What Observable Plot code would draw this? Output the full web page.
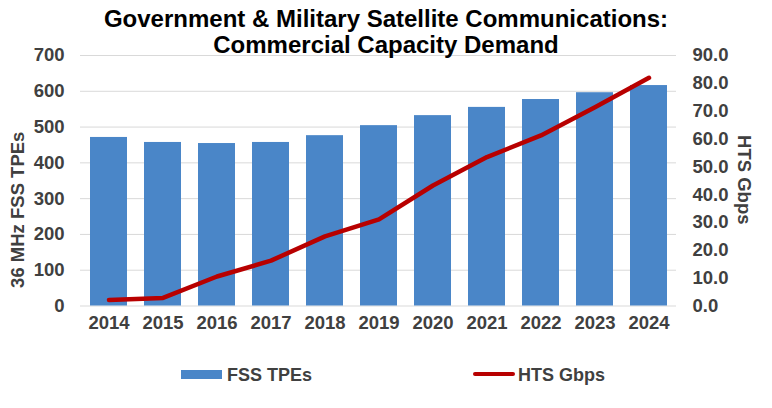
<!DOCTYPE html>
<html>
<head>
<meta charset="utf-8">
<script src="https://cdn.jsdelivr.net/npm/d3@7"></script>
<script src="https://cdn.jsdelivr.net/npm/@observablehq/plot@0.6"></script>
<style>
  html, body { margin: 0; padding: 0; background: #fff; }
  #wrap { position: relative; width: 772px; height: 408px; font-family: "Liberation Sans", Arial, sans-serif; font-weight: bold; }
  .title { position: absolute; left: 0; width: 772px; text-align: center; font-size: 24px; line-height: 26px; color: #000; top: 5.5px; }
  #chart { position: absolute; left: 0; top: 0; }
  .leg { position: absolute; font-size: 18px; color: #404040; line-height: 20px; }
</style>
</head>
<body>
<div id="wrap">
  <div id="chart"></div>
  <div class="title">Government &amp; Military Satellite Communications:<br>Commercial Capacity Demand</div>
  <div id="legend"></div>
</div>
<script>
const years = ["2014","2015","2016","2017","2018","2019","2020","2021","2022","2023","2024"];
const fssTPEs = [471, 457, 454, 457, 476, 504, 532, 555, 577, 596, 616];
const htsGbps = [2.2, 2.9, 10.6, 16.3, 25.0, 31.1, 43.3, 53.5, 61.3, 71.4, 82.0];
const leftTicks = [0, 100, 200, 300, 400, 500, 600, 700];
const rightTicks = [0, 10, 20, 30, 40, 50, 60, 70, 80, 90];
const leftMax = 700, rightMax = 90;
const seriesNames = ["FSS TPEs", "HTS Gbps"];
const axisTitles = ["36 MHz FSS TPEs", "HTS Gbps"];

const barColor = "#4a86c8";
const lineColor = "#b80000";
const toLeft = v => v * leftMax / rightMax;

const bars = years.map((y, i) => ({year: y, value: fssTPEs[i]}));
const line = years.map((y, i) => ({year: y, value: toLeft(htsGbps[i])}));

const chart = Plot.plot({
  width: 772,
  height: 345,
  marginTop: 55,
  marginBottom: 39.5,
  marginLeft: 80,
  marginRight: 96,
  style: {fontFamily: "'Liberation Sans', Arial, sans-serif", fontSize: "18px", fontWeight: "bold", color: "#404040", background: "transparent"},
  x: {domain: years, paddingInner: 0.32, paddingOuter: 0.16, label: null},
  y: {domain: [0, leftMax], label: null},
  marks: [
    Plot.ruleY(leftTicks, {stroke: "#d9d9d9", strokeWidth: 1}),
    Plot.barY(bars, {x: "year", y: "value", fill: barColor}),
    Plot.line(line, {x: "year", y: "value", stroke: lineColor, strokeWidth: 4.5, strokeLinejoin: "round", strokeLinecap: "round"}),
    Plot.axisX({tickSize: 0, tickPadding: 10, label: null, fill: "#404040", fontSize: 18.5}),
    Plot.axisY(leftTicks, {anchor: "left", tickSize: 0, tickPadding: 16, label: null, fill: "#404040", fontSize: 18.5, tickFormat: d => String(d)}),
    Plot.axisY(rightTicks.map(toLeft), {anchor: "right", tickSize: 0, tickPadding: 16, label: null, fill: "#404040", fontSize: 18.5,
      tickFormat: d => (d * rightMax / leftMax).toFixed(1)}),
    Plot.text([axisTitles[0]], {frameAnchor: "left", rotate: -90, dx: -62, dy: 29, fill: "#404040", fontSize: 18.5, fontWeight: "bold", textAnchor: "middle", lineAnchor: "middle"}),
    Plot.text([axisTitles[1]], {frameAnchor: "right", rotate: 90, dx: 67, dy: -1, fill: "#404040", fontSize: 18.5, fontWeight: "bold", textAnchor: "middle", lineAnchor: "middle"})
  ]
});
document.getElementById("chart").appendChild(chart);

// Legend
const legend = document.getElementById("legend");
legend.innerHTML = `
  <div style="position:absolute;left:181px;top:370px;width:41px;height:9px;background:${barColor}"></div>
  <div class="leg" style="left:227px;top:365px;">${seriesNames[0]}</div>
  <div style="position:absolute;left:473px;top:372px;width:42px;height:4px;border-radius:2px;background:${lineColor}"></div>
  <div class="leg" style="left:518px;top:365px;">${seriesNames[1]}</div>
`;
</script>
</body>
</html>
